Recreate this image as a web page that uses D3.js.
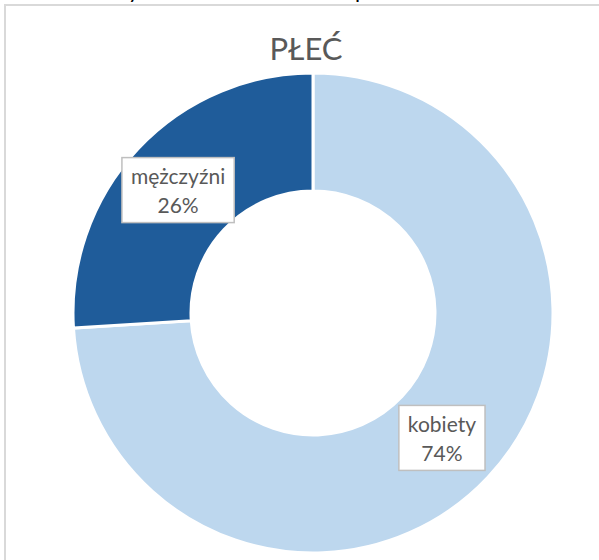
<!DOCTYPE html>
<html>
<head>
<meta charset="utf-8">
<script src="https://cdn.jsdelivr.net/npm/d3@7"></script>
<style>
  body { margin: 0; background: #fff; }
  svg { display: block; }
</style>
</head>
<body>
<svg id="chart" width="599" height="560"></svg>
<script>
// data
var categories = ["kobiety", "mężczyźni"];
var values = [74, 26];
var colors = ["#bdd7ee", "#1f5c9a"];
var title = "PŁEĆ";

var svg = d3.select("#chart");
var font = "Lato, 'Open Sans', sans-serif";

// cropped text line above the chart (only descenders show)
svg.append("text").attr("x", 128).attr("y", -2).text("y")
   .style("font-family", font).style("font-size", "22px").style("fill", "#000");
svg.append("text").attr("x", 355).attr("y", -2).text("p")
   .style("font-family", font).style("font-size", "22px").style("fill", "#000");

// chart frame
svg.append("rect")
   .attr("x", 5).attr("y", 5)
   .attr("width", 610).attr("height", 580)
   .style("fill", "none")
   .style("stroke", "#d9d9d9")
   .style("stroke-width", 2);

// title
svg.append("text")
   .attr("x", 306).attr("y", 60)
   .attr("text-anchor", "middle")
   .text(title)
   .style("font-family", font)
   .style("font-size", "31px")
   .style("fill", "#595959");

var cx = 313, cy = 313;
var outerR = 240, innerR = 122;

var pie = d3.pie().sort(null).value(function(d){ return d.value; });
var arc = d3.arc().innerRadius(innerR).outerRadius(outerR);
var labelArc = d3.arc().innerRadius(innerR).outerRadius(outerR);

var data = categories.map(function(c, i){ return {name: c, value: values[i], color: colors[i]}; });
var total = d3.sum(values);

var g = svg.append("g").attr("transform", "translate(" + cx + "," + cy + ")");

g.selectAll("path.slice")
 .data(pie(data))
 .enter().append("path")
 .attr("class", "slice")
 .attr("d", arc)
 .style("fill", function(d){ return d.data.color; })
 .style("stroke", "#fff")
 .style("stroke-width", 3);

// data labels in boxes
var labels = g.selectAll("g.lab")
 .data(pie(data))
 .enter().append("g")
 .attr("class", "lab")
 .attr("transform", function(d){
    var c = labelArc.centroid(d);
    return "translate(" + (c[0] - 3) + "," + (c[1] + 1) + ")";
 });

labels.each(function(d){
  var el = d3.select(this);
  var box = el.append("rect");
  var t1 = el.append("text").attr("x", 0).attr("y", -6).attr("text-anchor", "middle")
     .text(d.data.name)
     .style("font-family", font).style("font-size", "21px").style("fill", "#595959");
  var t2 = el.append("text").attr("x", 0).attr("y", 23).attr("text-anchor", "middle")
     .text(Math.round(d.data.value / total * 100) + "%")
     .style("font-family", font).style("font-size", "21px").style("fill", "#595959");
  var w = Math.max(t1.node().getComputedTextLength(), t2.node().getComputedTextLength()) + 18;
  var h = 65;
  box.attr("x", -w / 2).attr("y", -h / 2)
     .attr("width", w).attr("height", h)
     .style("fill", "#fff")
     .style("stroke", "#bfbfbf")
     .style("stroke-width", 1.5);
});
</script>
</body>
</html>
